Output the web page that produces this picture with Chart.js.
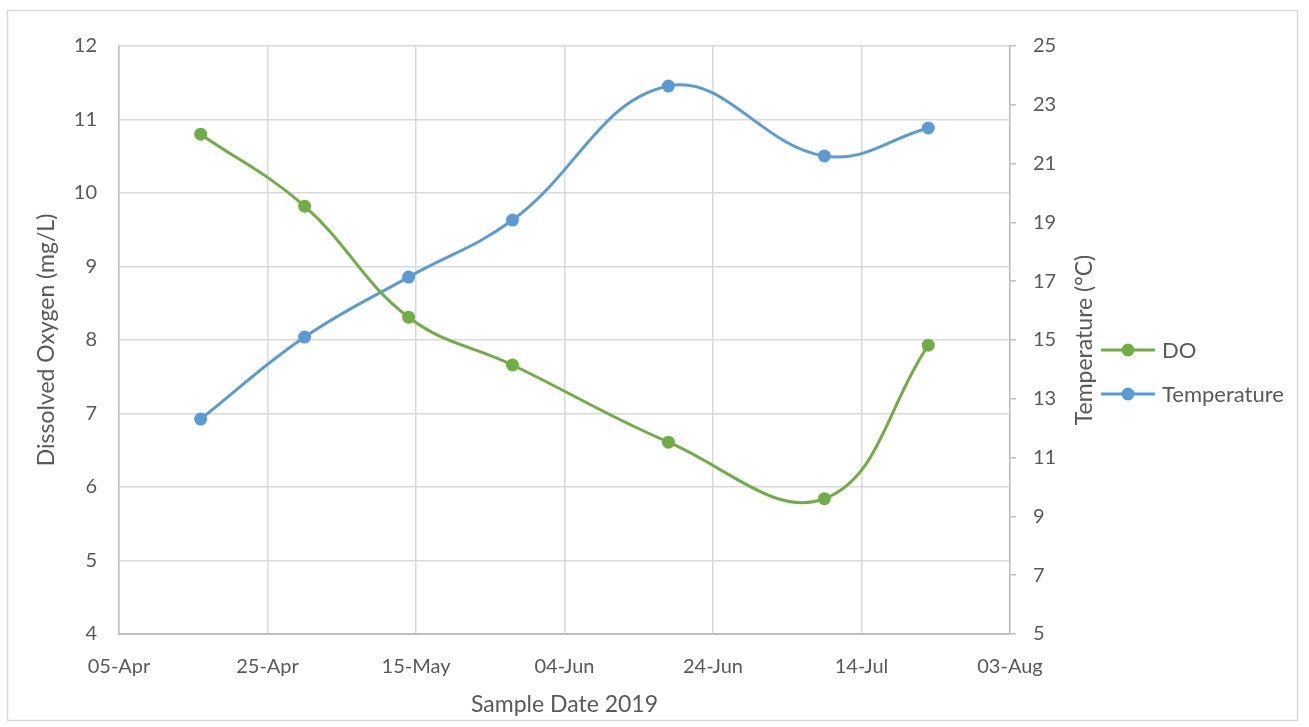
<!DOCTYPE html>
<html>
<head>
<meta charset="utf-8">
<script src="https://cdn.jsdelivr.net/npm/chart.js@4.4.1/dist/chart.umd.min.js"></script>
<style>
  html, body { margin: 0; padding: 0; background: #ffffff; }
  #wrap { width: 1309px; height: 727px; position: relative; }
</style>
</head>
<body>
<div id="wrap"><canvas id="c" width="1309" height="727"></canvas></div>
<script>
// ---- data ----
const sampleDates = ['2019-04-16', '2019-04-30', '2019-05-14', '2019-05-28', '2019-06-18', '2019-07-09', '2019-07-23'];
const doValues = [10.80, 9.82, 8.31, 7.66, 6.61, 5.84, 7.93];
const tempValues = [12.31, 15.10, 17.14, 19.08, 23.64, 21.26, 22.21];
const xTickLabels = ['05-Apr', '25-Apr', '15-May', '04-Jun', '24-Jun', '14-Jul', '03-Aug'];
const seriesNames = ['DO', 'Temperature'];
const axisTitles = { x: 'Sample Date 2019', y: 'Dissolved Oxygen (mg/L)', y1: 'Temperature (°C)' };

// ---- helpers ----
const origin = Date.UTC(2019, 3, 5);
const dayOffset = s => { const p = s.split('-').map(Number); return (Date.UTC(p[0], p[1] - 1, p[2]) - origin) / 86400000; };
const xs = sampleDates.map(dayOffset);
const toPoints = vals => vals.map((v, i) => ({ x: xs[i], y: v }));

const FONT = 'Lato, "Open Sans", sans-serif';
const TXT = '#595959';
const GREEN = '#70ad47';
const BLUE = '#5b9bd5';
const TICK_SIZE = 20;
const TITLE_SIZE = 23;
const LEGEND_SIZE = 22;

const framePlugin = {
  id: 'frame',
  beforeDraw(chart) {
    const ctx = chart.ctx;
    ctx.save();
    ctx.fillStyle = '#ffffff';
    ctx.fillRect(0, 0, chart.width, chart.height);
    ctx.strokeStyle = '#d9d9d9';
    ctx.lineWidth = 1.5;
    ctx.strokeRect(7.5, 10.5, 1290, 710);
    ctx.restore();
  },
  afterDraw(chart) {
    const ctx = chart.ctx;
    const area = chart.chartArea;
    ctx.save();
    // right axis title (reads bottom-to-top)
    ctx.translate(1085, (area.top + area.bottom) / 2);
    ctx.rotate(-Math.PI / 2);
    ctx.fillStyle = TXT;
    ctx.font = TITLE_SIZE + 'px ' + FONT;
    ctx.textAlign = 'center';
    ctx.textBaseline = 'middle';
    ctx.fillText(axisTitles.y1, 0, 0);
    ctx.restore();
    // legend
    const ys = [350, 394];
    chart.data.datasets.forEach((ds, i) => {
      const y = ys[i];
      ctx.save();
      ctx.strokeStyle = ds.borderColor;
      ctx.lineWidth = 3;
      ctx.beginPath();
      ctx.moveTo(1101, y);
      ctx.lineTo(1155, y);
      ctx.stroke();
      ctx.fillStyle = ds.borderColor;
      ctx.beginPath();
      ctx.arc(1128, y, 6.5, 0, Math.PI * 2);
      ctx.fill();
      ctx.fillStyle = TXT;
      ctx.font = LEGEND_SIZE + 'px ' + FONT;
      ctx.textAlign = 'left';
      ctx.textBaseline = 'middle';
      ctx.fillText(ds.label, 1162, y + 1);
      ctx.restore();
    });
  }
};

new Chart(document.getElementById('c'), {
  type: 'line',
  data: {
    datasets: [
      {
        label: seriesNames[0],
        data: toPoints(doValues),
        yAxisID: 'y',
        borderColor: GREEN,
        backgroundColor: GREEN,
        borderWidth: 3,
        pointRadius: 6.5,
        pointHoverRadius: 6.5,
        pointBorderWidth: 0,
        tension: 0.4,
        fill: false
      },
      {
        label: seriesNames[1],
        data: toPoints(tempValues),
        yAxisID: 'y1',
        borderColor: BLUE,
        backgroundColor: BLUE,
        borderWidth: 3,
        pointRadius: 6.5,
        pointHoverRadius: 6.5,
        pointBorderWidth: 0,
        tension: 0.4,
        fill: false
      }
    ]
  },
  options: {
    responsive: false,
    animation: false,
    devicePixelRatio: 1,
    layout: { padding: { left: 10, right: 209, top: 46, bottom: 7 } },
    plugins: { legend: { display: false }, tooltip: { enabled: false } },
    scales: {
      x: {
        type: 'linear',
        min: 0,
        max: 120,
        afterFit(s) { s.height = 86; },
        ticks: {
          stepSize: 20,
          color: TXT,
          font: { family: FONT, size: TICK_SIZE },
          padding: 21,
          maxRotation: 0,
          callback: (v) => xTickLabels[Math.round(v / 20)]
        },
        grid: { color: '#d9d9d9', lineWidth: 1.5, drawTicks: false },
        border: { color: '#bfbfbf', width: 2 },
        title: {
          display: true,
          text: axisTitles.x,
          color: TXT,
          font: { family: FONT, size: TITLE_SIZE },
          padding: { top: 0, bottom: 2 }
        }
      },
      y: {
        position: 'left',
        min: 4,
        max: 12,
        afterFit(s) { s.width = 109; },
        ticks: {
          stepSize: 1,
          color: TXT,
          font: { family: FONT, size: TICK_SIZE },
          padding: 22
        },
        grid: { color: '#d9d9d9', lineWidth: 1.5, drawTicks: false },
        border: { color: '#bfbfbf', width: 1.5 },
        title: {
          display: true,
          text: axisTitles.y,
          color: TXT,
          font: { family: FONT, size: TITLE_SIZE },
          padding: { top: 23, bottom: 0 }
        }
      },
      y1: {
        position: 'right',
        min: 5,
        max: 25,
        afterFit(s) { s.width = 90; },
        ticks: {
          stepSize: 2,
          color: TXT,
          font: { family: FONT, size: TICK_SIZE },
          padding: 17
        },
        grid: { drawOnChartArea: false, color: '#bfbfbf', lineWidth: 1.5, tickLength: 6 },
        border: { color: '#bfbfbf', width: 1.5 }
      }
    }
  },
  plugins: [framePlugin]
});
</script>
</body>
</html>
